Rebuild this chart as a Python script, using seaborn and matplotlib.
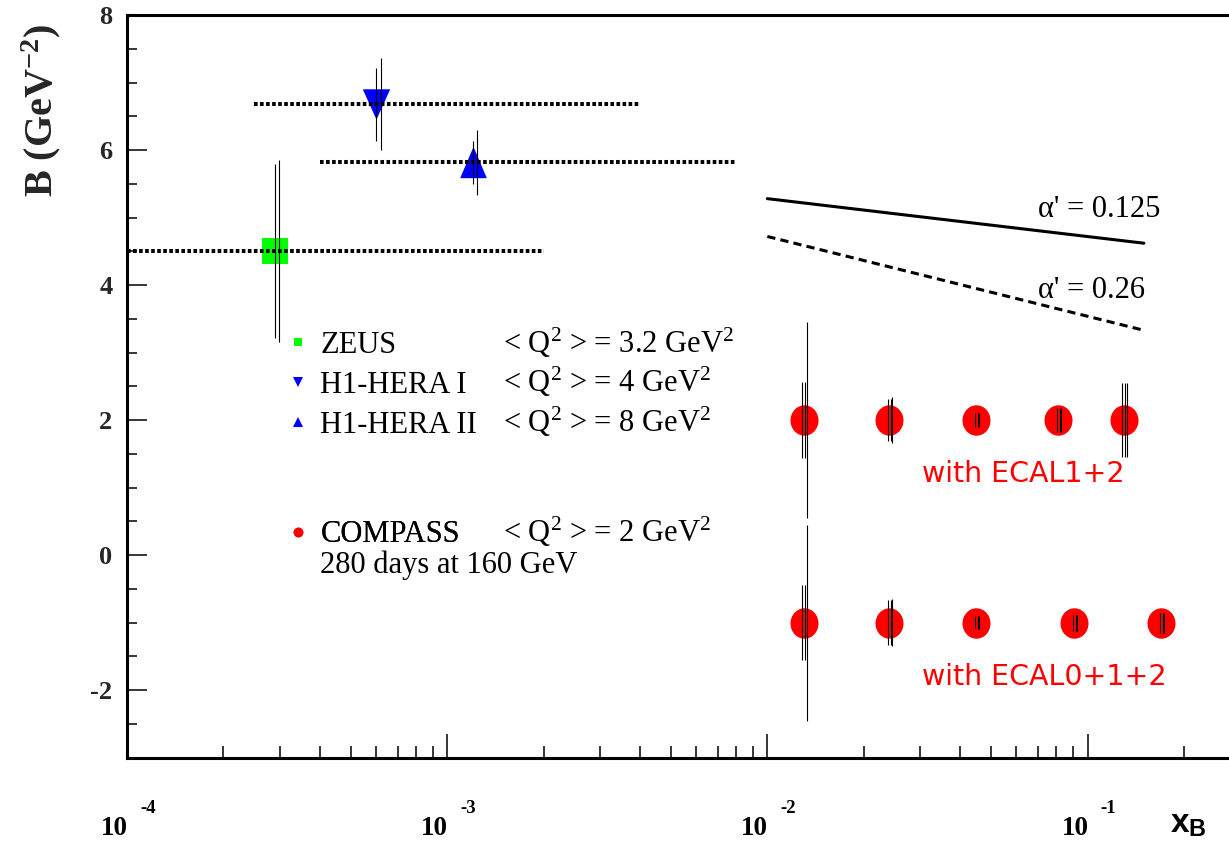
import numpy as np
import pandas as pd
import matplotlib
matplotlib.use("Agg")
import matplotlib.pyplot as plt
import matplotlib.transforms as mtransforms
from matplotlib.lines import Line2D
from matplotlib.path import Path
from matplotlib.ticker import LogLocator, MultipleLocator, NullFormatter, FixedLocator
import seaborn as sns

# ---------------- data ----------------
zeus_x = [2.9e-4]
zeus_B = [4.5]
zeus_stat = [1.29]
zeus_tot = [1.35]
zeus_xlo = [1.0e-4]
zeus_xhi = [2.0e-3]

h1i_x = [6.0e-4]
h1i_B = [6.68]
h1i_stat = [0.54]
h1i_tot = [0.68]
h1i_xlo = [2.5e-4]
h1i_xhi = [4.0e-3]

h1ii_x = [1.2e-3]
h1ii_B = [5.82]
h1ii_stat = [0.32]
h1ii_tot = [0.48]
h1ii_xlo = [4.0e-4]
h1ii_xhi = [8.0e-3]

ecal12_x = [0.013, 0.024, 0.045, 0.081, 0.13]
ecal12_B = [2.0, 2.0, 2.0, 2.0, 2.0]
ecal12_stat = [0.56, 0.31, 0.10, 0.18, 0.55]
ecal12_tot = [1.45, 0.34, 0.10, 0.18, 0.55]

ecal012_x = [0.013, 0.024, 0.045, 0.091, 0.17]
ecal012_B = [-1.0, -1.0, -1.0, -1.0, -1.0]
ecal012_stat = [0.56, 0.33, 0.10, 0.12, 0.15]
ecal012_tot = [1.45, 0.35, 0.10, 0.12, 0.15]

regge_x = [0.01, 0.15]
regge_B_0125 = [5.28, 4.62]
regge_B_026 = [4.72, 3.33]

yticks = [-2, 0, 2, 4, 6, 8]
xtick_vals = [1e-4, 1e-3, 1e-2, 1e-1]
xtick_exps = ["-4", "-3", "-2", "-1"]

legend_names = ["ZEUS", "H1-HERA I", "H1-HERA II"]
legend_q2 = [r"< Q$^{\mathrm{2}}$ > = 3.2 GeV$^{\mathrm{2}}$",
             r"< Q$^{\mathrm{2}}$ > = 4 GeV$^{\mathrm{2}}$",
             r"< Q$^{\mathrm{2}}$ > = 8 GeV$^{\mathrm{2}}$"]
compass_name = "COMPASS"
compass_q2 = r"< Q$^{\mathrm{2}}$ > = 2 GeV$^{\mathrm{2}}$"
compass_note = "280 days at 160 GeV"

# ---------------- style ----------------
sns.set_theme(style="white")
plt.rcParams.update({
    "font.family": ["Liberation Serif", "DejaVu Serif"],
    "mathtext.fontset": "custom",
    "mathtext.rm": "Liberation Serif",
    "mathtext.it": "Liberation Serif:italic",
    "mathtext.bf": "Liberation Serif:bold",
    "mathtext.sf": "Liberation Sans:bold",
    "axes.linewidth": 2.2,
    "text.color": "black",
})

fig = plt.figure(figsize=(12.29, 8.43), dpi=100)
ax = fig.add_axes([127 / 1229, 85.3 / 843, 1102 / 1229, 742.7 / 843])
ax.set_facecolor("white")
ax.set_xscale("log")
xright = 10 ** (-4 + 1102 / 320.17)
ax.set_xlim(1e-4, xright)
ax.set_ylim(-3, 8)

# marker shapes
tri_down = Path([(-0.9, 1), (0.9, 1), (0, -1), (-0.9, 1)],
                [Path.MOVETO, Path.LINETO, Path.LINETO, Path.CLOSEPOLY])
tri_up = Path([(-0.85, -1), (0.85, -1), (0, 1), (-0.85, -1)],
              [Path.MOVETO, Path.LINETO, Path.LINETO, Path.CLOSEPOLY])
circ = Path.unit_circle()
ellipse = Path(circ.vertices * np.array([0.92, 1.0]), circ.codes)

GREEN = "#00ff00"
BLUE = "#0000ff"
RED = "#ff0000"

# data markers
sns.scatterplot(x=zeus_x, y=zeus_B, marker="s", s=360, color=GREEN,
                linewidth=0, ax=ax, zorder=2, legend=False)
sns.scatterplot(x=h1i_x, y=h1i_B, marker=tri_down, s=480, color=BLUE,
                linewidth=0, ax=ax, zorder=2, legend=False)
sns.scatterplot(x=h1ii_x, y=h1ii_B, marker=tri_up, s=510, color=BLUE,
                linewidth=0, ax=ax, zorder=2, legend=False)
sns.scatterplot(x=ecal12_x, y=ecal12_B, marker=ellipse, s=480, color=RED,
                linewidth=0, ax=ax, zorder=2, legend=False)
sns.scatterplot(x=ecal012_x, y=ecal012_B, marker=ellipse, s=480, color=RED,
                linewidth=0, ax=ax, zorder=2, legend=False)

# x-range bars (dotted)
for xlo, xhi, B in [(zeus_xlo, zeus_xhi, zeus_B), (h1i_xlo, h1i_xhi, h1i_B),
                    (h1ii_xlo, h1ii_xhi, h1ii_B)]:
    ax.hlines(B, xlo, xhi, colors="black", linewidth=2.9,
              linestyles=[(0, (0.9, 0.6))], zorder=3)


def shifted(dx_px):
    return ax.transData + mtransforms.ScaledTranslation(dx_px / 100, 0, fig.dpi_scale_trans)


def errbars(x, y, stat, tot, stat_offsets, tot_offset):
    x = np.asarray(x); y = np.asarray(y)
    stat = np.asarray(stat); tot = np.asarray(tot)
    for dx in stat_offsets:
        ax.vlines(x, y - stat, y + stat, colors="black", linewidth=0.8,
                  transform=shifted(dx), zorder=4)
    ax.vlines(x, y - tot, y + tot, colors="black", linewidth=0.8,
              transform=shifted(tot_offset), zorder=4)


errbars(zeus_x, zeus_B, zeus_stat, zeus_tot, (0.0,), 4.0)
errbars(h1i_x, h1i_B, h1i_stat, h1i_tot, (0.0,), 4.5)
errbars(h1ii_x, h1ii_B, h1ii_stat, h1ii_tot, (0.0,), 4.5)
errbars(ecal12_x, ecal12_B, ecal12_stat, ecal12_tot, (-1.5, 1.5), 2.8)
errbars(ecal012_x, ecal012_B, ecal012_stat, ecal012_tot, (-1.5, 1.5), 2.8)

# Regge slope lines
sns.lineplot(x=regge_x, y=regge_B_0125, color="black", linewidth=2.2, ax=ax,
             zorder=3, legend=False)
sns.lineplot(x=regge_x, y=regge_B_026, color="black", linewidth=2.2, ax=ax,
             zorder=3, legend=False, linestyle=(0, (2.7, 1.7)))

ax.text(0.8267, 0.728, "α' = 0.125", transform=ax.transAxes, fontsize=22,
        family="Liberation Serif", va="baseline", ha="left")
ax.text(0.8267, 0.6189, "α' = 0.26", transform=ax.transAxes, fontsize=22,
        family="Liberation Serif", va="baseline", ha="left")

ax.text(0.7214, 0.3712, "with ECAL1+2", transform=ax.transAxes, fontsize=20.5,
        family="DejaVu Sans", color=RED, va="baseline", ha="left")
ax.text(0.7214, 0.0979, "with ECAL0+1+2", transform=ax.transAxes, fontsize=20.5,
        family="DejaVu Sans", color=RED, va="baseline", ha="left")

# legend
h_zeus = Line2D([], [], marker="s", linestyle="none", color=GREEN, markersize=6, markeredgewidth=0)
h_h1i = Line2D([], [], marker="v", linestyle="none", color=BLUE, markersize=7, markeredgewidth=0)
h_h1ii = Line2D([], [], marker="^", linestyle="none", color=BLUE, markersize=7, markeredgewidth=0)
h_comp = Line2D([], [], marker="o", linestyle="none", color=RED, markersize=7, markeredgewidth=0)

leg_kw = dict(frameon=False, prop={"family": "Liberation Serif", "size": 22},
              handlelength=0.6, handletextpad=0.43, borderpad=0, borderaxespad=0,
              loc="upper left")
leg1 = ax.legend(handles=[h_zeus, h_h1i, h_h1ii], labels=legend_names,
                 bbox_to_anchor=(0.147, 0.575), labelspacing=0.36, **leg_kw)
ax.add_artist(leg1)
leg2 = ax.legend(handles=[h_comp], labels=[compass_name],
                 bbox_to_anchor=(0.147, 0.3196), **leg_kw)
ax.add_artist(leg2)

q2_y = [0.5449, 0.4922, 0.4384]
for yy, s in zip(q2_y, legend_q2):
    ax.text(0.3412, yy, s, transform=ax.transAxes, fontsize=22, va="baseline", ha="left")
ax.text(0.3412, 0.2903, compass_q2, transform=ax.transAxes, fontsize=22, va="baseline", ha="left")
ax.text(0.1751, 0.2487, compass_note, transform=ax.transAxes, fontsize=22, va="baseline", ha="left")

# axes / ticks
for side in ("left", "bottom", "top"):
    ax.spines[side].set_visible(True)
    ax.spines[side].set_color("black")
    ax.spines[side].set_linewidth(2.2)
ax.spines["right"].set_visible(False)

ax.set_yticks(yticks)
ax.set_yticklabels([str(v) for v in yticks], fontsize=19, fontweight="bold",
                   family="Liberation Serif")
ax.yaxis.set_minor_locator(MultipleLocator(0.5))
ax.tick_params(axis="y", which="major", direction="in", length=14.4, width=1.1,
               pad=10.5, left=True, right=False, color="black")
ax.tick_params(axis="y", which="minor", direction="in", length=7.5, width=1.1,
               left=True, right=False, color="black")

ax.xaxis.set_major_locator(FixedLocator(xtick_vals))
ax.xaxis.set_minor_locator(LogLocator(base=10, subs=np.arange(2, 10)))
ax.xaxis.set_major_formatter(NullFormatter())
ax.xaxis.set_minor_formatter(NullFormatter())
ax.tick_params(axis="x", which="major", direction="in", length=17.3, width=1.1,
               bottom=True, top=False, color="black")
ax.tick_params(axis="x", which="minor", direction="in", length=8.6, width=1.1,
               bottom=True, top=False, color="black")

blend = mtransforms.blended_transform_factory(ax.transData, ax.transAxes)
for v, e in zip(xtick_vals, xtick_exps):
    ax.text(v, -0.104, "10", transform=blend + mtransforms.ScaledTranslation(0.01, 0, fig.dpi_scale_trans),
            fontsize=19.5, fontweight="bold", ha="right", va="baseline", clip_on=False)
    ax.text(v, -0.0746, e, transform=blend + mtransforms.ScaledTranslation(0.13, 0, fig.dpi_scale_trans),
            fontsize=13.5, fontweight="bold", ha="left", va="baseline", clip_on=False)

ax.text(0.9465, -0.100, r"$\mathsf{x}_{\mathsf{B}}$", transform=ax.transAxes,
        fontsize=24, ha="left", va="baseline")

ax.set_ylabel(r"B (GeV$^{\mathbf{-2}}$)", fontsize=29, fontweight="bold",
              family="Liberation Serif")
ax.yaxis.set_label_coords(-0.058, 0.872)
ax.grid(False)

fig.savefig("out.png", dpi=100, facecolor="white")
